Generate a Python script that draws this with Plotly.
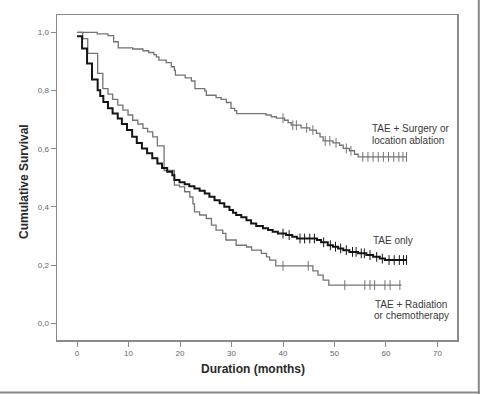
import plotly.graph_objects as go
import bisect

# ---------------- data ----------------
surgery_t = [0, 3.9, 6.0, 7.1, 8.0, 10.8, 12.8, 13.9, 14.9, 15.4, 15.9, 17.3, 18.3, 18.9, 19.1,
             21.0, 22.2, 22.9, 24.8, 25.1, 27.0, 28.0, 29.0, 29.9, 30.6, 31.0, 36.7, 37.7, 38.7,
             40.3, 41.0, 41.6, 43.5, 45.2, 46.5, 47.2, 47.8, 49.7, 51.0, 51.7, 52.9, 53.9, 54.6]
surgery_s = [1.0, 0.995, 0.989, 0.968, 0.947, 0.943, 0.937, 0.931, 0.924, 0.916, 0.905, 0.896,
             0.882, 0.870, 0.853, 0.844, 0.833, 0.807, 0.799, 0.784, 0.776, 0.770, 0.759, 0.739,
             0.731, 0.721, 0.716, 0.710, 0.705, 0.698, 0.690, 0.681, 0.672, 0.664, 0.653, 0.641,
             0.627, 0.620, 0.612, 0.601, 0.593, 0.581, 0.572]
surgery_end = 64.0
surgery_cens = [40.0, 41.9, 42.6, 44.6, 45.8, 48.2, 49.1, 50.3, 52.3, 53.2, 55.5, 56.5, 57.5,
                58.5, 59.5, 60.5, 61.5, 62.5, 63.3, 64.0]

tae_t = [0, 0.97, 1.94, 2.9, 4.0, 4.5, 5.1, 6.0, 6.9, 7.9, 8.7, 9.7, 10.7, 11.6, 12.6, 13.6,
         14.6, 15.6, 16.5, 17.5, 18.5, 18.9, 19.9, 20.9, 21.8, 22.8, 23.8, 24.8, 25.7, 26.7,
         27.7, 28.6, 29.6, 30.3, 30.9, 31.9, 32.9, 33.8, 34.8, 36.1, 37.1, 38.0, 39.0, 40.6,
         41.8, 42.7, 46.6, 47.4, 48.7, 49.7, 50.7, 51.7, 52.9, 54.6, 56.2, 57.5, 58.8, 59.8]
tae_s = [0.987, 0.945, 0.893, 0.838, 0.801, 0.781, 0.761, 0.739, 0.721, 0.704, 0.685, 0.664,
         0.641, 0.620, 0.601, 0.584, 0.567, 0.549, 0.534, 0.521, 0.509, 0.492, 0.485, 0.478,
         0.471, 0.463, 0.455, 0.446, 0.435, 0.423, 0.412, 0.400, 0.389, 0.380, 0.372, 0.364,
         0.354, 0.343, 0.334, 0.326, 0.320, 0.314, 0.308, 0.303, 0.297, 0.291, 0.286, 0.278,
         0.268, 0.263, 0.257, 0.251, 0.245, 0.240, 0.234, 0.228, 0.222, 0.217]
tae_end = 64.0
tae_cens = [40.0, 41.2, 43.3, 44.2, 45.2, 46.1, 47.9, 49.2, 50.2, 51.2, 52.3, 53.5, 54.2,
            55.2, 55.8, 56.9, 58.2, 59.3, 60.6, 61.6, 62.6, 63.4, 64.0]

rad_t = [0, 1.1, 2.07, 4.0, 5.0, 6.0, 6.9, 7.9, 8.9, 9.9, 10.8, 11.8, 12.8, 13.7, 14.7, 15.6,
         16.9, 18.9, 19.9, 20.9, 21.9, 22.5, 22.8, 23.8, 25.1, 26.1, 27.0, 28.3, 28.9, 30.9,
         32.9, 33.9, 35.8, 36.8, 37.4, 38.6, 45.8, 46.8, 47.8, 48.9]
rad_s = [1.0, 0.979, 0.928, 0.859, 0.807, 0.788, 0.770, 0.750, 0.733, 0.716, 0.698, 0.685,
         0.670, 0.658, 0.641, 0.610, 0.525, 0.475, 0.469, 0.452, 0.434, 0.410, 0.383, 0.372,
         0.360, 0.337, 0.320, 0.309, 0.286, 0.268, 0.262, 0.251, 0.240, 0.228, 0.217, 0.197,
         0.180, 0.165, 0.148, 0.131]
rad_end = 63.0
rad_cens = [40.0, 44.9, 52.0, 55.9, 56.9, 57.8, 59.8, 60.8, 62.7]

x_ticks = [0, 10, 20, 30, 40, 50, 60, 70]
y_ticks = [0.0, 0.2, 0.4, 0.6, 0.8, 1.0]
y_tick_text = ["0,0", "0,2", "0,4", "0,6", "0,8", "1,0"]

GREY = "#747474"
BLACK = "#151515"


def surv_at(t, times, surv):
    i = bisect.bisect_right(times, t) - 1
    return surv[max(i, 0)]


fig = go.Figure()


def add_curve(times, surv, end, cens, color, width):
    xs = list(times) + [end]
    ys = list(surv) + [surv[-1]]
    fig.add_trace(go.Scatter(x=xs, y=ys, mode="lines", line=dict(shape="hv", color=color, width=width),
                             hoverinfo="skip", showlegend=False))
    fig.add_trace(go.Scatter(x=cens, y=[surv_at(c, times, surv) for c in cens], mode="markers",
                             marker=dict(symbol="line-ns", size=7, line=dict(color=color, width=1)),
                             hoverinfo="skip", showlegend=False))


add_curve(surgery_t, surgery_s, surgery_end, surgery_cens, GREY, 1.3)
add_curve(rad_t, rad_s, rad_end, rad_cens, GREY, 1.3)
add_curve(tae_t, tae_s, tae_end, tae_cens, BLACK, 2.0)

FONT = "Liberation Sans, Arial, sans-serif"
TXT = "#3a3a3a"

labels = [
    ("TAE + Surgery or", 56.9, 0.668),
    ("location ablation", 56.9, 0.630),
    ("TAE only", 57.1, 0.286),
    ("TAE + Radiation", 57.4, 0.064),
    ("or chemotherapy", 57.2, 0.026),
]
for txt, lx, ly in labels:
    fig.add_annotation(x=lx, y=ly, xref="x", yref="y", text=txt, showarrow=False,
                       xanchor="left", yanchor="middle",
                       font=dict(family=FONT, size=10, color=TXT))

fig.add_annotation(x=0.489, y=-0.089, xref="paper", yref="paper", text="<b>Duration (months)</b>",
                   showarrow=False, xanchor="center", yanchor="middle",
                   font=dict(family=FONT, size=12, color="#2a2a2a"))
fig.add_annotation(x=-0.081, y=0.488, xref="paper", yref="paper", text="<b>Cumulative Survival</b>",
                   showarrow=False, xanchor="center", yanchor="middle", textangle=-90,
                   font=dict(family=FONT, size=12, color="#2a2a2a"))

# outer picture border (right and bottom)
fig.add_shape(type="line", xref="paper", yref="paper", x0=1.0545, x1=1.0545, y0=-0.17, y1=1.05,
              line=dict(color="#888888", width=2))
fig.add_shape(type="line", xref="paper", yref="paper", x0=-0.15, x1=1.06, y0=-0.1615, y1=-0.1615,
              line=dict(color="#888888", width=2))

axis_common = dict(showgrid=False, zeroline=False, showline=True, mirror=True,
                   linecolor="#8a8a8a", linewidth=1.5, ticks="outside", ticklen=5,
                   tickcolor="#8a8a8a", tickwidth=1,
                   tickfont=dict(family=FONT, size=8, color="#666666"))

fig.update_xaxes(range=[-3.9, 73.8], tickvals=x_ticks, ticktext=[str(v) for v in x_ticks], **axis_common)
fig.update_yaxes(range=[-0.058, 1.06], tickvals=y_ticks, ticktext=y_tick_text, **axis_common)

fig.update_layout(width=480, height=394, margin=dict(l=57, r=23, t=15, b=54),
                  paper_bgcolor="white", plot_bgcolor="white", hovermode=False)

# remove the default 8px page margin so the 480x394 figure fills the window exactly
fig.write_html("out.html", config={"displayModeBar": False, "staticPlot": True},
               post_script="document.body.style.margin='0';document.body.style.overflow='hidden';")
